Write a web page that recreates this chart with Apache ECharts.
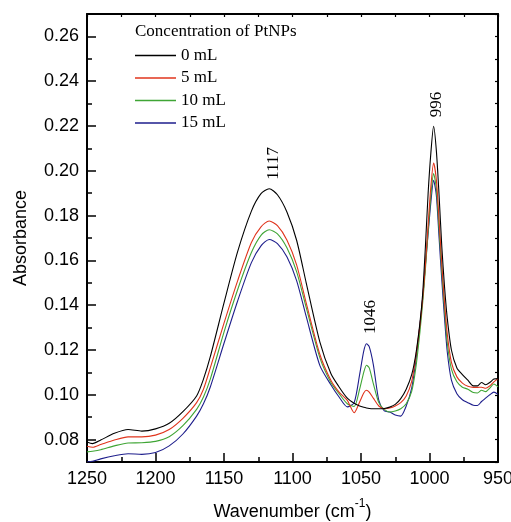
<!DOCTYPE html>
<html>
<head>
<meta charset="utf-8">
<script src="https://cdn.jsdelivr.net/npm/echarts@6/dist/echarts.min.js"></script>
<style>html,body{margin:0;padding:0;background:#fff;}#c{width:511px;height:522px;}</style>
</head>
<body>
<div id="c"></div>
<script>
// Wavenumber (cm-1) sample positions
var wavenumbers = [1250,1246,1240,1230,1220,1210,1200,1190,1180,1170,1165,1160,1150,1140,1130,1123,1117,1111,1104,1097,1090,1080,1072,1066,1060,1055,1051,1048,1046,1044,1041,1037,1033,1029,1025,1021,1017,1013,1010,1007,1005,1003,1001,999,997,995,993,991,989,987,984,980,976,972,968,965,962,959,956,953,950];
var seriesNames = ['0 mL','5 mL','10 mL','15 mL'];
var abs0 = [0.0789,0.0782,0.0798,0.0828,0.0845,0.0838,0.0848,0.0873,0.0925,0.0995,0.107,0.117,0.141,0.164,0.182,0.1898,0.192,0.1893,0.1815,0.169,0.150,0.1235,0.1095,0.1035,0.0985,0.0962,0.0950,0.0944,0.0941,0.0939,0.0938,0.0938,0.0939,0.0945,0.0957,0.0983,0.1025,0.109,0.118,0.132,0.145,0.166,0.190,0.208,0.2199,0.209,0.189,0.166,0.148,0.134,0.120,0.1120,0.1090,0.1065,0.1040,0.1040,0.1055,0.1045,0.1055,0.1070,0.1072];
var abs5 = [0.0770,0.0766,0.0778,0.0798,0.0812,0.0812,0.0820,0.0845,0.0895,0.0965,0.1025,0.112,0.132,0.151,0.168,0.175,0.1776,0.1755,0.169,0.158,0.141,0.118,0.1065,0.1012,0.0975,0.0920,0.0968,0.1008,0.1020,0.1012,0.0985,0.0950,0.0938,0.0941,0.0950,0.0965,0.0995,0.106,0.117,0.131,0.143,0.158,0.176,0.193,0.2035,0.196,0.178,0.158,0.141,0.127,0.1145,0.1080,0.1052,0.1038,0.1033,0.1033,0.1034,0.1029,0.1040,0.1058,0.1072];
var abs10 = [0.0745,0.0748,0.0755,0.0772,0.0785,0.0786,0.0792,0.0813,0.0862,0.0935,0.0990,0.1070,0.128,0.147,0.1635,0.1712,0.1737,0.1718,0.1655,0.155,0.139,0.1165,0.1055,0.1005,0.0960,0.0948,0.1025,0.1100,0.1132,0.1120,0.1050,0.0965,0.0935,0.0923,0.0928,0.0938,0.0960,0.1015,0.112,0.128,0.141,0.156,0.173,0.189,0.1988,0.192,0.174,0.155,0.138,0.123,0.1115,0.1058,0.1034,0.1025,0.1010,0.1008,0.1020,0.1014,0.1030,0.1048,0.1035];
var abs15 = [0.0700,0.0703,0.0714,0.0728,0.0737,0.0734,0.0742,0.0772,0.0825,0.0905,0.096,0.1035,0.123,0.142,0.159,0.1665,0.1693,0.1675,0.1615,0.151,0.135,0.113,0.1045,0.0990,0.0946,0.0965,0.1090,0.1195,0.1228,0.1215,0.1135,0.0975,0.0928,0.0923,0.0910,0.0905,0.0950,0.103,0.115,0.131,0.143,0.158,0.172,0.186,0.1958,0.189,0.170,0.151,0.134,0.119,0.1065,0.1005,0.0978,0.0965,0.0953,0.0952,0.0970,0.0985,0.1000,0.1012,0.1002];
var colors = ['#000000','#e0341c','#3fa535','#1e1e8c'];
var majorY = [0.08,0.10,0.12,0.14,0.16,0.18,0.20,0.22,0.24,0.26];
var minorY = [0.09,0.11,0.13,0.15,0.17,0.19,0.21,0.23,0.25];
var peakLabels = ['1117','1046','996'];
var peakWn = [1114,1043,995];
var peakAbs = [0.192,0.1231,0.2199];
var peakSeries = [0,3,0];

var allAbs = [abs0,abs5,abs10,abs15];
var serifFont = 'Liberation Serif, Times New Roman, serif';
var sansFont = 'Liberation Sans, Arial, sans-serif';

var series = allAbs.map(function(arr, i){
  var s = {
    name: seriesNames[i], type: 'line', xAxisIndex: 0, yAxisIndex: 0,
    data: wavenumbers.map(function(w, j){ return [w, arr[j]]; }),
    symbol: 'none', smooth: 0.25, color: colors[i],
    lineStyle: {width: 1.1, color: colors[i]}, z: 5 - i
  };
  var mp = [];
  peakSeries.forEach(function(si, k){
    if (si === i) mp.push({name: peakLabels[k], coord: [peakWn[k], peakAbs[k]]});
  });
  if (mp.length) {
    s.markPoint = {
      symbol: 'circle', symbolSize: 0, data: mp, silent: true,
      label: {show: true, position: 'top', distance: 9, rotate: 90, align: 'left', verticalAlign: 'middle',
        formatter: '{b}', color: '#000', fontFamily: serifFont, fontSize: 17}
    };
  }
  return s;
});

var chart = echarts.init(document.getElementById('c'), null, {renderer: 'canvas'});
chart.setOption({
  animation: false,
  backgroundColor: '#fff',
  title: {text: 'Concentration of PtNPs', left: 135, top: 23, padding: 0,
    textStyle: {fontFamily: serifFont, fontSize: 17, fontWeight: 'normal', color: '#000'}},
  legend: {orient: 'vertical', left: 135, top: 47, padding: 0, itemWidth: 41, itemHeight: 1.3, itemGap: 5.5,
    icon: 'rect',
    textStyle: {fontFamily: serifFont, fontSize: 17, color: '#000'}, data: seriesNames},
  grid: {left: 87, right: 13, top: 14, bottom: 60, containLabel: false, outerBoundsMode: 'none'},
  xAxis: [
    {type: 'value', position: 'bottom', min: 950, max: 1250, interval: 50, inverse: true,
      axisLine: {show: true, lineStyle: {color: '#000', width: 2}},
      axisTick: {show: true, inside: true, length: 9, lineStyle: {color: '#000', width: 1.5}},
      minorTick: {show: true, splitNumber: 2, length: 5, lineStyle: {color: '#000', width: 1.5}},
      axisLabel: {color: '#000', fontFamily: sansFont, fontSize: 18, margin: 8,
        formatter: function(v){ return String(Math.round(v)); }},
      splitLine: {show: false},
      name: 'Wavenumber (cm{sup|-1})', nameLocation: 'middle', nameGap: 36,
      nameTextStyle: {color: '#000', fontFamily: sansFont, fontSize: 18,
        rich: {sup: {fontSize: 12, fontFamily: sansFont, color: '#000', padding: [0,0,16,0]}}}},
    {type: 'value', position: 'top', min: 950, max: 1250, interval: 25, inverse: true,
      axisLine: {show: true, lineStyle: {color: '#000', width: 2}},
      axisTick: {show: true, inside: true, length: 3, lineStyle: {color: '#000', width: 1.2}},
      axisLabel: {show: false}, splitLine: {show: false}}
  ],
  yAxis: [
    {type: 'value', position: 'left', min: 0.07, max: 0.27, interval: 0.01,
      axisLine: {show: true, lineStyle: {color: '#000', width: 2}},
      axisTick: {show: true, inside: true, length: 9, customValues: majorY, lineStyle: {color: '#000', width: 1.5}},
      axisLabel: {color: '#000', fontFamily: sansFont, fontSize: 18, margin: 8, customValues: majorY,
        formatter: function(v){ return v.toFixed(2); }},
      splitLine: {show: false},
      name: 'Absorbance', nameLocation: 'middle', nameGap: 57,
      nameTextStyle: {color: '#000', fontFamily: sansFont, fontSize: 18}},
    {type: 'value', position: 'right', min: 0.07, max: 0.27, interval: 0.01,
      axisLine: {show: true, lineStyle: {color: '#000', width: 2}},
      axisTick: {show: true, inside: true, length: 3, lineStyle: {color: '#000', width: 1.2}},
      axisLabel: {show: false}, splitLine: {show: false}},
    {type: 'value', position: 'left', offset: 0, min: 0.07, max: 0.27, interval: 0.01,
      axisLine: {show: false},
      axisTick: {show: true, inside: true, length: 5, customValues: minorY, lineStyle: {color: '#000', width: 1.5}},
      axisLabel: {show: false}, splitLine: {show: false}}
  ],
  series: series
});
</script>
</body>
</html>
